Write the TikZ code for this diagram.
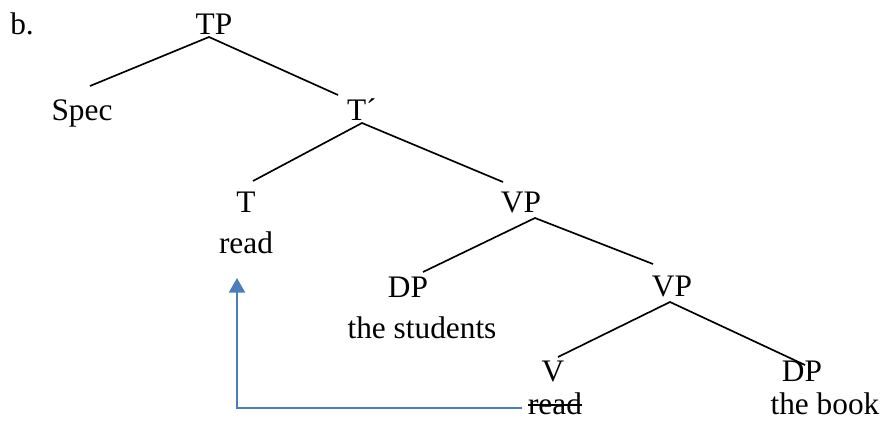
\documentclass[tikz,border=0pt]{standalone}
\usepackage{fontspec}
\setmainfont{Liberation Serif}
\usetikzlibrary{arrows.meta}
\definecolor{arrowblue}{HTML}{4A7EBB}
\begin{document}
\begin{tikzpicture}[x=0.75pt,y=-0.75pt,
  lbl/.style={inner sep=0pt,outer sep=0pt,anchor=base,font=\fontsize{23.5}{28}\selectfont},
  branch/.style={draw=black,line width=1.25pt},
  movearrow/.style={draw=arrowblue,line width=1.7pt,-{Triangle[length=11pt,width=12pt]}}]
\useasboundingbox (0,0) rectangle (883,421);
% labels
\node[lbl] (b) at (22,35) {b.};
\node[lbl] (TP) at (214,35) {TP};
\node[lbl] (Spec) at (82,120) {Spec};
\node[lbl,anchor=base west] (Tbar) at (347,120) {T´};
\node[lbl] (T) at (246,212) {T};
\node[lbl] (readT) at (246,253) {read};
\node[lbl] (VP1) at (521,212) {VP};
\node[lbl] (DP1) at (408,297) {DP};
\node[lbl] (students) at (422,338) {the students};
\node[lbl] (VP2) at (672,296) {VP};
\node[lbl] (V) at (553,381) {V};
\node[lbl] (readV) at (555,414) {read};
\node[lbl] (DP2) at (802,381) {DP};
\node[lbl] (book) at (825,414) {the book};
% branch end points
\coordinate (TPa) at (209,37);
\coordinate (Spect) at (90,86);
\coordinate (Tbart) at (338,95);
\coordinate (Tbara) at (362,123);
\coordinate (Tt) at (253,181);
\coordinate (VPonet) at (503,182);
\coordinate (VPonea) at (535,218);
\coordinate (DPonet) at (423,272);
\coordinate (VPtwot) at (653,264);
\coordinate (VPtwoa) at (670,302);
\coordinate (Vt) at (558,357);
\coordinate (DPtwot) at (805,365);
% branches
\draw[branch] (Spect) -- (TPa) -- (Tbart);
\draw[branch] (Tt) -- (Tbara) -- (VPonet);
\draw[branch] (DPonet) -- (VPonea) -- (VPtwot);
\draw[branch] (Vt) -- (VPtwoa) -- (DPtwot);
% strike-through of the trace
\draw[line width=1.2pt] ([yshift=6.6pt]readV.base west) -- ([yshift=6.6pt]readV.base east);
% movement arrow
\coordinate (arrS) at (522,408);
\coordinate (arrE) at (237,278);
\draw[movearrow] (arrS) -| (arrE);
\end{tikzpicture}
\end{document}
